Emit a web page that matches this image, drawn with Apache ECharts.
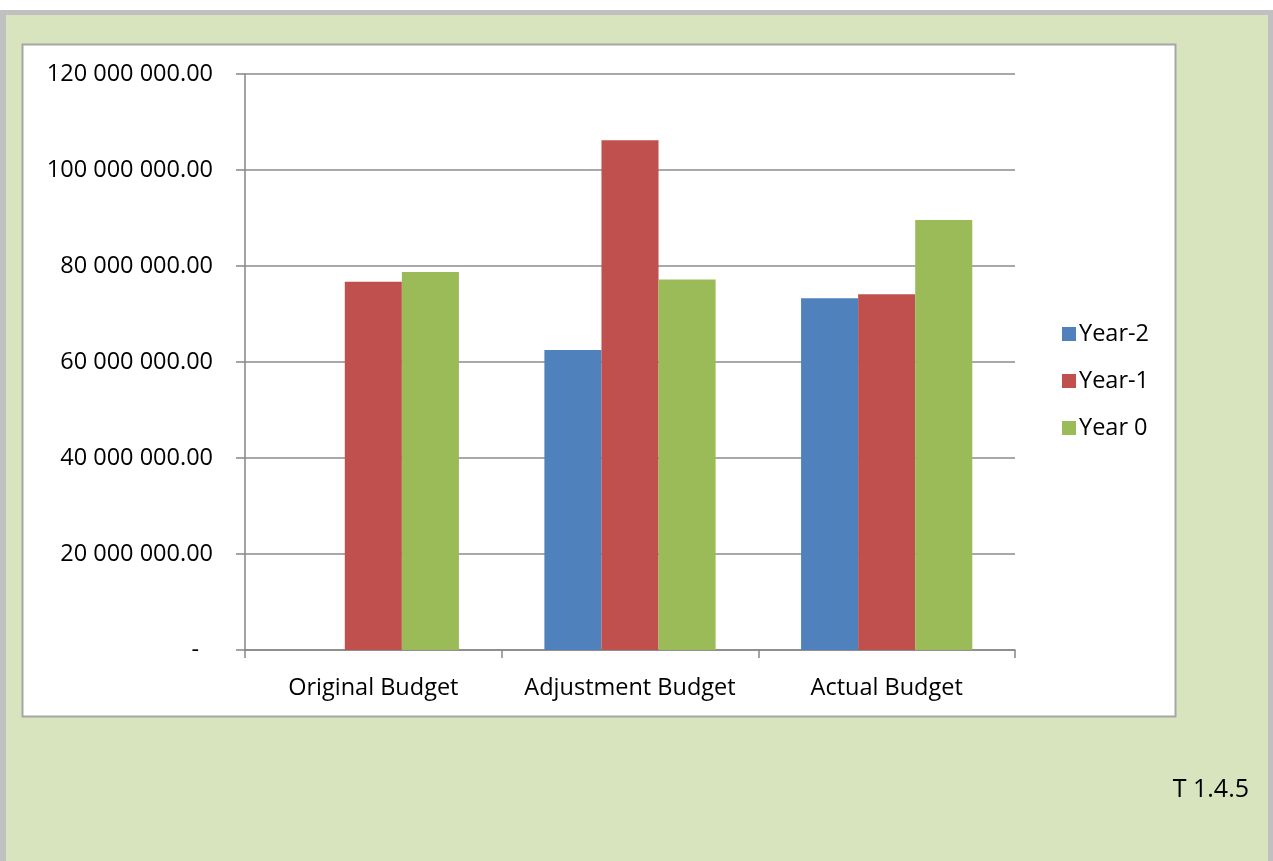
<!DOCTYPE html>
<html>
<head>
<meta charset="utf-8">
<title>Budget comparison</title>
<script src="https://cdn.jsdelivr.net/npm/echarts@6/dist/echarts.min.js"></script>
<style>
  html, body { margin: 0; padding: 0; background: #ffffff; }
  #chart { width: 1273px; height: 861px; }
</style>
</head>
<body>
<div id="chart"></div>
<script>
// Budget categories and yearly amounts
const categories = ['Original Budget', 'Adjustment Budget', 'Actual Budget'];
const seriesNames = ['Year-2', 'Year-1', 'Year 0'];
const yearMinus2 = [0, 62500000, 73300000];
const yearMinus1 = [76700000, 106200000, 74100000];
const year0 = [78750000, 77200000, 89600000];
const tableRef = 'T 1.4.5';

const FONT = 'Open Sans';
const FS = 23.5;
const colors = ['#4f81bd', '#c0504d', '#9bbb59'];

// "120 000 000.00" style with a dash for zero
function fmt(v) {
  if (v === 0) return '{z|-}';
  const parts = v.toFixed(2).split('.');
  return parts[0].replace(/\B(?=(\d{3})+(?!\d))/g, ' ') + '.' + parts[1];
}

const chart = echarts.init(document.getElementById('chart'), null, { renderer: 'canvas' });

const values = [yearMinus2, yearMinus1, year0];

chart.setOption({
  animation: false,
  backgroundColor: '#ffffff',
  textStyle: { fontFamily: FONT, color: '#000' },
  graphic: [
    { type: 'rect', z: -10, shape: { x: 0, y: 10, width: 1273, height: 851 }, style: { fill: '#c0c0c0' } },
    { type: 'rect', z: -9, shape: { x: 6, y: 15, width: 1262, height: 846 }, style: { fill: '#d7e4bd' } },
    { type: 'rect', z: -8, shape: { x: 22.5, y: 44.5, width: 1153, height: 672 }, style: { fill: '#ffffff', stroke: '#a6a6a6', lineWidth: 2 } },
    { type: 'text', z: 5, x: 1249, y: 790, style: { text: tableRef, font: '25px "' + FONT + '"', fill: '#000', align: 'right', verticalAlign: 'middle' } }
  ],
  legend: {
    orient: 'vertical',
    left: 1057,
    top: 317,
    itemWidth: 14,
    itemHeight: 14,
    itemGap: 23,
    icon: 'rect',
    textStyle: { fontFamily: FONT, fontSize: FS, color: '#000', padding: [0, 0, 0, -2] },
    data: seriesNames
  },
  grid: { left: 245, top: 74, right: 258, bottom: 211, containLabel: false },
  xAxis: {
    type: 'category',
    data: categories,
    axisLine: { lineStyle: { color: '#868686', width: 1.5 } },
    axisTick: { show: true, length: 8, alignWithLabel: false, lineStyle: { color: '#868686', width: 1.5 } },
    axisLabel: { interval: 0, hideOverlap: false, fontFamily: FONT, fontSize: FS, color: '#000', margin: 26 }
  },
  yAxis: {
    type: 'value',
    min: 0,
    max: 120000000,
    interval: 20000000,
    axisLine: { show: true, lineStyle: { color: '#868686', width: 1.5 } },
    axisTick: { show: true, length: 9, lineStyle: { color: '#868686', width: 1.5 } },
    splitLine: { show: true, lineStyle: { color: '#8c8c8c', width: 1.5 } },
    axisLabel: {
      fontFamily: FONT, fontSize: FS, color: '#000', margin: 32,
      formatter: fmt,
      rich: { z: { fontFamily: FONT, fontSize: FS, color: '#000', padding: [0, 14, 0, 0] } }
    }
  },
  series: seriesNames.map((name, i) => ({
    name: name,
    type: 'bar',
    data: values[i],
    barGap: '0%',
    barCategoryGap: '33.3%',
    itemStyle: { color: colors[i] }
  }))
});
</script>
</body>
</html>
